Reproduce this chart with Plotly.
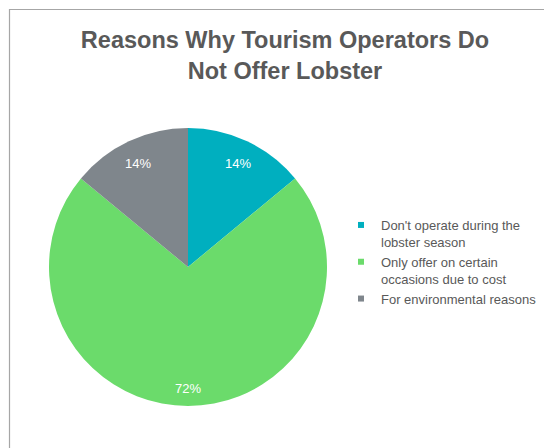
import math
import plotly.graph_objects as go

# Survey responses
reasons = [
    "Don't operate during the<br>lobster season",
    "Only offer on certain<br>occasions due to cost",
    "For environmental reasons",
]
shares = [14, 72, 14]
colors = ["#00AFBF", "#6BDB6B", "#7F868C"]

title_text = "Reasons Why Tourism Operators Do<br>Not Offer Lobster"
text_color = "#595959"
font_family = "Liberation Sans, Arial, sans-serif"

W, H = 544, 448

# Pie geometry (pixels)
cx_px, cy_px, r_px = 188, 267, 139
label_frac = 0.85

fig = go.Figure()

fig.add_trace(go.Pie(
    labels=reasons,
    values=shares,
    marker=dict(colors=colors, line=dict(width=0)),
    sort=False,
    direction="clockwise",
    rotation=0,
    textinfo="none",
    domain=dict(x=[(cx_px - r_px) / W, (cx_px + r_px) / W],
                y=[1 - (cy_px + r_px) / H, 1 - (cy_px - r_px) / H]),
    showlegend=False,
    hoverinfo="label+percent",
))

# Percentage labels placed along each slice's mid-angle
total = sum(shares)
annotations = []
cum = 0
for v in shares:
    mid = (cum + v / 2) / total * 2 * math.pi
    cum += v
    x = (cx_px + label_frac * r_px * math.sin(mid)) / W
    y = 1 - (cy_px - label_frac * r_px * math.cos(mid)) / H
    annotations.append(dict(
        x=x, y=y, xref="paper", yref="paper",
        text=f"{v}%", showarrow=False,
        font=dict(color="white", size=13, family=font_family),
        xanchor="center", yanchor="middle", yshift=-3,
    ))

# Legend entries with small square swatches
for name, col in zip(reasons, colors):
    fig.add_trace(go.Scatter(
        x=[None], y=[None], mode="markers",
        marker=dict(symbol="square", size=6, color=col),
        name=name, showlegend=True, hoverinfo="skip",
    ))

fig.update_layout(
    width=W, height=H,
    margin=dict(l=0, r=0, t=0, b=0),
    paper_bgcolor="white",
    plot_bgcolor="white",
    xaxis=dict(visible=False),
    yaxis=dict(visible=False),
    title=dict(
        text=title_text,
        x=285 / W, xanchor="center",
        y=1 - 48 / H, yanchor="top",
        font=dict(size=23.5, color=text_color, family=font_family, weight="bold"),
    ),
    annotations=annotations,
    legend=dict(
        x=341 / W, xanchor="left",
        y=1 - 210 / H, yanchor="top",
        font=dict(size=13, color=text_color, family=font_family),
        valign="top",
        bgcolor="rgba(0,0,0,0)",
        itemwidth=30,
        tracegroupgap=0,
    ),
    shapes=[dict(
        type="rect", xref="paper", yref="paper",
        x0=9.5 / W, x1=1.05, y0=-0.05, y1=1 - 9.5 / H,
        line=dict(color="#A6A6A6", width=1.2),
        fillcolor="rgba(0,0,0,0)",
        layer="below",
    )],
)

fig.write_html("out.html")
